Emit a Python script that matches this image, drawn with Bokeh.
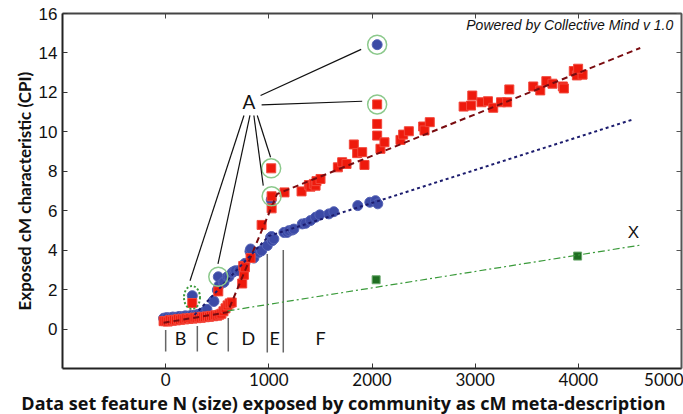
import math
from bokeh.plotting import figure
from bokeh.models import Range1d, LinearAxis, FixedTicker, Label, Title
from bokeh.core.properties import value
from bokeh.embed import file_html
from bokeh.resources import INLINE

# ---------------- data ----------------
red_x = [-20, 0, 20, 40, 60, 80, 100, 120, 140, 160, 180, 200, 220, 240, 260, 280, 300,
         320, 340, 360, 380, 400, 420, 440, 460, 480, 500, 520, 540, 560, 580, 600, 620, 640,
         258, 510, 742, 752, 758, 768, 823, 930, 1027, 1027, 1023,
         1152, 1317, 1388, 1404, 1436, 1453, 1462, 1501,
         1669, 1711, 1753, 1824, 1856, 1905, 1927,
         2050, 2050, 2050, 2082, 2121, 2276, 2302, 2357, 2496, 2509, 2560,
         2888, 2972, 2960, 3061, 3124, 3175, 3251, 3310, 3331,
         3563, 3631, 3690, 3749, 3850, 3860, 3956, 3986, 4041, 3998]
red_y = [0.40, 0.40, 0.38, 0.45, 0.42, 0.47, 0.44, 0.50, 0.47, 0.52, 0.49, 0.54, 0.51, 0.56,
         0.53, 0.58, 0.55, 0.60, 0.57, 0.62, 0.60, 0.64, 0.62, 0.67, 0.65, 0.70, 0.68, 0.73,
         0.78, 0.90, 1.05, 1.20, 1.30, 1.35,
         1.32, 1.91, 2.31, 3.20, 2.75, 3.13, 3.60, 5.28, 6.12, 6.73, 8.15,
         6.93, 6.98, 7.30, 7.22, 7.36, 7.27, 7.50, 7.61,
         8.20, 8.46, 8.37, 9.36, 8.92, 8.97, 8.32,
         11.39, 10.40, 9.81, 9.14, 9.47, 9.59, 9.86, 10.03, 10.27, 10.07, 10.49,
         11.28, 11.84, 11.33, 11.50, 11.55, 11.22, 11.50, 11.50, 12.15,
         12.30, 12.10, 12.57, 12.44, 12.30, 12.20, 13.08, 12.86, 12.90, 13.20]

blue_x = [-20, 10, 40, 70, 100, 130, 160, 190, 220, 250, 280, 310, 340, 370, 400,
          258, 462, 468, 501, 510, 516, 558, 565, 597, 613, 646, 662, 678, 710, 768,
          817, 823, 855, 888, 904, 927, 930, 985, 1017, 1023, 1027, 1033, 1049,
          1146, 1178, 1194, 1227, 1243, 1324, 1356, 1404, 1453, 1494, 1582, 1630,
          1862, 1979, 2034, 2056, 2050]
blue_y = [0.55, 0.58, 0.57, 0.61, 0.60, 0.64, 0.63, 0.67, 0.66, 0.70, 0.69, 0.74, 0.78,
          0.85, 1.00,
          1.69, 1.44, 1.40, 1.98, 2.65, 2.20, 2.37, 2.37, 2.65, 2.65, 2.87, 2.92, 2.96,
          2.96, 3.33,
          3.94, 4.06, 3.60, 3.89, 3.89, 3.97, 3.97, 4.23, 4.65, 6.55, 4.69, 4.48, 4.57,
          4.90, 4.90, 4.99, 5.02, 5.07, 5.33, 5.36, 5.50, 5.67, 5.79, 5.84, 5.95,
          6.26, 6.43, 6.51, 6.35, 14.42]

green_x = [2040, 3993]
green_y = [2.50, 3.70]

red_fit_x = [-20, 600, 1080, 4600]
red_fit_y = [0.32, 0.85, 6.85, 14.25]
blue_fit_x = [280, 1000, 4520]
blue_fit_y = [0.72, 4.72, 10.61]
green_fit_x = [600, 4606]
green_fit_y = [0.92, 4.26]

# highlighted outliers (green rings)
ring_x = [510, 1027, 1023, 2050, 2050]
ring_y = [2.65, 6.73, 8.15, 11.39, 14.42]
ellipse_x = [255]
ellipse_y = [1.60]

# "A" leader lines
lead_x0 = [920, 930, 888, 855, 817, 759]
lead_y0 = [11.84, 11.37, 10.83, 10.83, 10.83, 10.83]
lead_x1 = [1895, 1905, 1017, 946, 507, 236]
lead_y1 = [14.18, 11.55, 8.71, 7.27, 3.30, 2.45]

# region dividers and letters
div_x = [0, 307, 607, 985, 1140]
div_top = [-0.05, 0.15, 0.56, 3.80, 4.01]
div_bot = [-1.14, -1.14, -1.14, -1.19, -1.19]
region_names = ["B", "C", "D", "E", "F"]
region_x = [145, 452, 801, 1056, 1501]
region_y = [-0.43, -0.43, -0.43, -0.43, -0.43]

x_ticks = [0, 1000, 2000, 3000, 4000, 5000]
y_ticks = [0, 2, 4, 6, 8, 10, 12, 14, 16]

x_label = "Data set feature N (size) exposed by community as cM meta-description"
y_label = "Exposed cM characteristic (CPI)"

# ---------------- figure ----------------
p = figure(width=683, height=414, output_backend="svg", toolbar_location=None,
           x_range=Range1d(-1000, 5000), y_range=Range1d(-2, 16),
           min_border_left=62, min_border_right=2, min_border_top=13, min_border_bottom=46)
p.grid.visible = False
p.outline_line_color = None
p.background_fill_color = "white"
p.border_fill_color = "white"

for ax in p.xaxis:
    ax.ticker = FixedTicker(ticks=x_ticks)
    ax.major_label_text_font = "Lato"
    ax.major_label_text_font_size = "17px"
    ax.major_label_text_color = "#111111"
    ax.major_label_standoff = 4
for ax in p.yaxis:
    ax.ticker = FixedTicker(ticks=y_ticks)
    ax.major_label_text_font = "Liberation Sans"
    ax.major_label_text_font_size = "17px"
    ax.major_label_text_color = "#111111"
    ax.major_label_standoff = 5
for ax in list(p.xaxis) + list(p.yaxis):
    ax.axis_line_color = "#222222"
    ax.axis_line_width = 2
    ax.major_tick_in = 5
    ax.major_tick_out = 0
    ax.minor_tick_in = 0
    ax.minor_tick_out = 0
    ax.major_tick_line_color = "#333333"

top_ax = LinearAxis(ticker=FixedTicker(ticks=x_ticks),
                    major_label_overrides={t: "" for t in x_ticks},
                    major_label_text_font_size="1px",
                    major_label_standoff=0, major_tick_in=5, major_tick_out=0,
                    minor_tick_in=0, minor_tick_out=0, axis_line_color="#444444",
                    axis_line_width=2, major_tick_line_color="#444444")
right_ax = LinearAxis(ticker=FixedTicker(ticks=y_ticks),
                      major_label_overrides={t: "" for t in y_ticks},
                      major_label_text_font_size="1px",
                      major_label_standoff=0, major_tick_in=5, major_tick_out=0,
                      minor_tick_in=0, minor_tick_out=0, axis_line_color="#555555",
                      axis_line_width=2, major_tick_line_color="#555555")
p.add_layout(top_ax, "above")
p.add_layout(right_ax, "right")

# axis titles (offset to match the reference placement)
p.add_layout(Title(text=y_label, align="left", offset=58, standoff=2, text_font="Lato",
                   text_font_style="bold", text_font_size="17px", text_color="#111111"),
             "left")
p.add_layout(Title(text=x_label, align="right", offset=16, standoff=0, text_font="Open Sans",
                   text_font_style="bold", text_font_size="18px", text_color="#111111"),
             "below")

# region divider lines
p.segment(x0=div_x, y0=div_top, x1=div_x, y1=div_bot, line_color="#666666", line_width=1.5)

# points
p.scatter(blue_x, blue_y, marker="circle", size=10, fill_color="#3c4aa6",
          line_color="#5563b5", line_width=1)
p.scatter(red_x, red_y, marker="square", size=9, fill_color="#ee1a0c",
          line_color="#f2473b", line_width=1)
p.scatter(green_x, green_y, marker="square", size=8, fill_color="#1f6e22",
          line_color="#6aa86c", line_width=1)

# fit lines
p.line(red_fit_x, red_fit_y, line_color="#7a0c10", line_width=2, line_dash="6 4")
p.line(blue_fit_x, blue_fit_y, line_color="#1c1c6e", line_width=2, line_dash="3 3")
p.line(green_fit_x, green_fit_y, line_color="#3a9a3a", line_width=1.2, line_dash="7 3 2 3")

# rings / ellipse
p.scatter(ring_x, ring_y, marker="circle", size=19, fill_color=None,
          line_color="#8cc98c", line_width=1.5)
p.ellipse(x=ellipse_x, y=ellipse_y, width=16, height=23, width_units="screen",
          height_units="screen", fill_color=None, line_color="#3a9a3a",
          line_width=2, line_dash="2 2")

# leaders to A
p.segment(x0=lead_x0, y0=lead_y0, x1=lead_x1, y1=lead_y1, line_color="#111111", line_width=1.2)

# texts
p.text(x=region_x, y=region_y, text=region_names, text_font=value("Lato"),
       text_font_size="18px", text_align="center", text_baseline="middle",
       text_color="#111111")
p.add_layout(Label(x=807, y=11.55, text="A", text_font="Lato", text_font_size="19px",
                   text_align="center", text_baseline="middle", text_color="#111111"))
p.add_layout(Label(x=4535, y=4.9, text="X", text_font="Liberation Sans",
                   text_font_size="17px", text_align="center", text_baseline="middle",
                   text_color="#111111"))
p.add_layout(Label(x=4920, y=15.4, text="Powered by Collective Mind v 1.0",
                   text_font="Liberation Sans", text_font_style="italic",
                   text_font_size="14px", text_align="right", text_baseline="middle",
                   text_color="#111111"))

open("out.html", "w").write(file_html(p, INLINE))
